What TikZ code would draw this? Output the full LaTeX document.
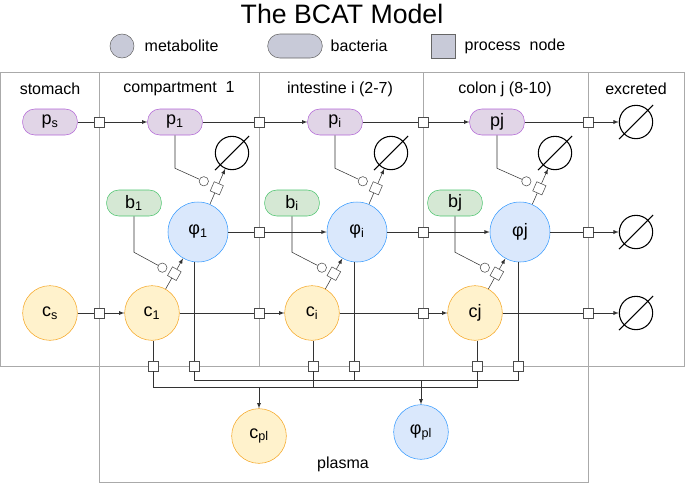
\documentclass[tikz,border=0pt]{standalone}
\usepackage{fontspec}
\setmainfont{Liberation Sans}
\usetikzlibrary{calc}
\definecolor{metfill}{HTML}{C8CAD8}
\definecolor{pfill}{HTML}{E1D5E7}
\definecolor{pline}{HTML}{B266D6}
\definecolor{bfill}{HTML}{D5E8D4}
\definecolor{bline}{HTML}{4CC46E}
\definecolor{ffill}{HTML}{DAE8FC}
\definecolor{fline}{HTML}{3399FF}
\definecolor{cfill}{HTML}{FFF2CC}
\definecolor{cline}{HTML}{F5A623}
\definecolor{grid}{HTML}{AAAAAA}
\tikzset{
  lbl/.style={font=\fontsize{12}{14}\selectfont},
  big/.style={font=\fontsize{13.5}{15}\selectfont},
  proc/.style={draw=black!70, fill=white, minimum size=7.5pt, inner sep=0pt},
  pill/.style={big, rounded corners=9pt, minimum width=41pt, minimum height=19.5pt, inner sep=0pt},
  pnode/.style={pill, draw=pline, fill=pfill},
  bnode/.style={pill, draw=bline, fill=bfill},
  fnode/.style={big, circle, draw=fline, fill=ffill, minimum size=45pt, inner sep=0pt},
  cnode/.style={big, circle, draw=cline, fill=cfill, minimum size=41pt, inner sep=0pt},
  empty/.style={circle, draw=black, thick, minimum size=25pt, inner sep=0pt},
  inh/.style={circle, draw=black!70, fill=white, minimum size=7pt, inner sep=0pt},
  flow/.style={draw=black!80, -latex},
  wire/.style={draw=black!80},
}
\newcommand{\emptymark}[1]{\draw[thick] ($(#1.225)!-0.2!(#1.45)$) -- ($(#1.45)!-0.2!(#1.225)$);}
\begin{document}
\begin{tikzpicture}[x=0.75pt,y=-0.75pt]
\useasboundingbox (0,0) rectangle (685,483);
% title and legend
\node[font=\fontsize{20}{24}\selectfont] (title) at (342,14) {The BCAT Model};
\node[circle, draw=black!60, fill=metfill, minimum size=18pt] (legmet) at (122,46) {};
\node[lbl, anchor=west] (legmett) at (140,46) {metabolite};
\node[rounded corners=9pt, draw=black!60, fill=metfill, minimum width=41pt, minimum height=18pt] (legbac) at (295,46) {};
\node[lbl, anchor=west] (legbact) at (326,46) {bacteria};
\node[draw=black!60, fill=metfill, minimum size=18pt] (legproc) at (443,46) {};
\node[lbl, anchor=west] (legproct) at (460,46) {process\ \ node};
% compartments
\draw[grid] (0.5,72) rectangle (684.5,366);
\foreach \x in {99,259,423,588} \draw[grid] (\x,72) -- (\x,366);
\draw[grid] (99,366) rectangle (588,482);
\node[lbl] (hs) at (50,89) {stomach};
\node[lbl] (h1) at (179,89) {compartment\ \ 1};
\node[lbl] (hi) at (340,89) {intestine i (2-7)};
\node[lbl] (hj) at (505,89) {colon j (8-10)};
\node[lbl] (he) at (636,89) {excreted};
\node[lbl] (hpl) at (343,464) {plasma};
% species
\node[pnode] (ps) at (50,122) {p\textsubscript{s}};
\node[pnode] (p1) at (175,122) {p\textsubscript{1}};
\node[pnode] (pi) at (335,122) {p\textsubscript{i}};
\node[pnode] (pj) at (497,122) {pj};
\node[bnode] (b1) at (134,203) {b\textsubscript{1}};
\node[bnode] (bi) at (292,203) {b\textsubscript{i}};
\node[bnode] (bj) at (455,203) {bj};
\node[fnode] (f1) at (198,232) {φ\textsubscript{1}};
\node[fnode] (fi) at (357,232) {φ\textsubscript{i}};
\node[fnode] (fj) at (520,232) {φj};
\node[cnode] (cs) at (50,313) {c\textsubscript{s}};
\node[cnode] (c1) at (152,313) {c\textsubscript{1}};
\node[cnode] (ci) at (312,313) {c\textsubscript{i}};
\node[cnode] (cj) at (475,313) {cj};
\node[cnode] (cpl) at (259,436) {c\textsubscript{pl}};
\node[fnode, minimum size=41pt] (fpl) at (421,432) {φ\textsubscript{pl}};
% sinks
\node[empty] (e1) at (232,153) {};
\node[empty] (ei) at (391,153) {};
\node[empty] (ej) at (555,153) {};
\node[empty] (ep) at (636,122) {};
\node[empty] (ef) at (636,232) {};
\node[empty] (ec) at (636,313) {};
\foreach \e in {e1,ei,ej,ep,ef,ec} \emptymark{\e}
% transport along the gut
\node[proc] (qp0) at (99,122) {};
\node[proc] (qp1) at (259,122) {};
\node[proc] (qp2) at (423,122) {};
\node[proc] (qp3) at (588,122) {};
\node[proc] (qf1) at (259,232) {};
\node[proc] (qf2) at (423,232) {};
\node[proc] (qf3) at (588,232) {};
\node[proc] (qc0) at (99,313) {};
\node[proc] (qc1) at (259,313) {};
\node[proc] (qc2) at (423,313) {};
\node[proc] (qc3) at (588,313) {};
\draw[wire] (ps) -- (qp0); \draw[flow] (qp0) -- (p1);
\draw[wire] (p1) -- (qp1); \draw[flow] (qp1) -- (pi);
\draw[wire] (pi) -- (qp2); \draw[flow] (qp2) -- (pj);
\draw[wire] (pj) -- (qp3); \draw[flow] (qp3) -- (ep);
\draw[wire] (f1) -- (qf1); \draw[flow] (qf1) -- (fi);
\draw[wire] (fi) -- (qf2); \draw[flow] (qf2) -- (fj);
\draw[wire] (fj) -- (qf3); \draw[flow] (qf3) -- (ef);
\draw[wire] (cs) -- (qc0); \draw[flow] (qc0) -- (c1);
\draw[wire] (c1) -- (qc1); \draw[flow] (qc1) -- (ci);
\draw[wire] (ci) -- (qc2); \draw[flow] (qc2) -- (cj);
\draw[wire] (cj) -- (qc3); \draw[flow] (qc3) -- (ec);
% conversion and degradation
\foreach \k in {1,i,j} {
  \draw[flow] (c\k) -- node[proc, sloped, pos=.5] (m\k) {} (f\k);
  \draw[flow] (f\k) -- node[proc, sloped, pos=.45] (d\k) {} (e\k);
  \node[inh] (im\k) at ($(m\k)+(-12,-6)$) {};
  \node[inh] (id\k) at ($(d\k)+(-13,-7)$) {};
  \draw[wire] (b\k.south) -- ++(0,36) -- (im\k);
  \draw[wire] (p\k.south) -- ++(0,33) -- (id\k);
}
% absorption into plasma
\node[proc] (ac1) at (153,366) {};
\node[proc] (aci) at (313,366) {};
\node[proc] (acj) at (477,366) {};
\node[proc] (af1) at (194,366) {};
\node[proc] (afi) at (354,366) {};
\node[proc] (afj) at (518,366) {};
\foreach \k in {1,i,j} {
  \draw[wire] (c\k.south -| ac\k) -- (ac\k);
  \draw[wire] (f\k.south -| af\k) -- (af\k);
}
\coordinate (cbus) at (259,387);
\coordinate (fbus) at (421,380);
\draw[wire] (ac1) -- (ac1 |- cbus) -- (acj |- cbus) -- (acj);
\draw[wire] (aci) -- (aci |- cbus);
\draw[wire] (af1) -- (af1 |- fbus) -- (afj |- fbus) -- (afj);
\draw[wire] (afi) -- (afi |- fbus);
\draw[flow] (cbus) -- (cpl);
\draw[flow] (fbus) -- (fpl);
\end{tikzpicture}
\end{document}
